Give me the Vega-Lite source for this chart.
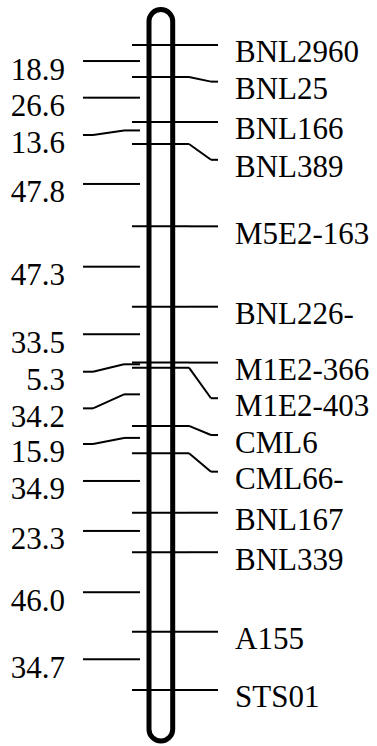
{
  "$schema": "https://vega.github.io/schema/vega-lite/v6.json",
  "width": 377,
  "height": 746,
  "autosize": {"type": "fit", "contains": "padding"},
  "padding": 0,
  "background": "white",
  "config": {"view": {"stroke": null}},
  "datasets": {
    "chrom": [{"start": -21.0, "end": 412.2}],
    "markers": [
      {"name": "BNL2960", "pos": 0, "lpos": 0},
      {"name": "BNL25", "pos": 18.9, "lpos": 21.7},
      {"name": "BNL166", "pos": 45.6, "lpos": 45.6},
      {"name": "BNL389", "pos": 58.6, "lpos": 68.0},
      {"name": "M5E2-163", "pos": 107.4, "lpos": 107.4},
      {"name": "BNL226-", "pos": 155.0, "lpos": 155.0},
      {"name": "M1E2-366", "pos": 188.1, "lpos": 188.1},
      {"name": "M1E2-403", "pos": 191.1, "lpos": 209.2},
      {"name": "CML6", "pos": 225.6, "lpos": 231.0},
      {"name": "CML66-", "pos": 241.8, "lpos": 252.7},
      {"name": "BNL167", "pos": 277.0, "lpos": 277.0},
      {"name": "BNL339", "pos": 300.4, "lpos": 300.4},
      {"name": "A155", "pos": 347.5, "lpos": 347.5},
      {"name": "STS01", "pos": 382.0, "lpos": 382.0}
    ],
    "intervals": [
      {"dist": "18.9", "pos": 9.5, "lpos": 9.5},
      {"dist": "26.6", "pos": 31.2, "lpos": 31.2},
      {"dist": "13.6", "pos": 50.6, "lpos": 53.3},
      {"dist": "47.8", "pos": 82.3, "lpos": 82.3},
      {"dist": "47.3", "pos": 131.3, "lpos": 131.3},
      {"dist": "33.5", "pos": 171.3, "lpos": 171.3},
      {"dist": "5.3", "pos": 189.1, "lpos": 193.5},
      {"dist": "34.2", "pos": 206.9, "lpos": 215.2},
      {"dist": "15.9", "pos": 232.7, "lpos": 236.3},
      {"dist": "34.9", "pos": 258.2, "lpos": 258.2},
      {"dist": "23.3", "pos": 287.8, "lpos": 287.8},
      {"dist": "46.0", "pos": 324.1, "lpos": 324.1},
      {"dist": "34.7", "pos": 363.8, "lpos": 363.8}
    ]
  },
  "encoding": {
    "y": {"field": "pos", "type": "quantitative", "scale": {"domain": [-26.65, 415.17], "reverse": true, "nice": false, "zero": false}, "axis": null}
  },
  "layer": [
    {
      "data": {"name": "chrom"},
      "mark": {"type": "rect", "fillOpacity": 0, "stroke": "black", "strokeWidth": 5, "cornerRadius": 11.8},
      "encoding": {
        "x": {"datum": 149, "type": "quantitative", "scale": {"domain": [0, 377], "nice": false, "zero": false}, "axis": null},
        "x2": {"datum": 172.7},
        "y": {"field": "start", "type": "quantitative"},
        "y2": {"field": "end"}
      }
    },
    {
      "data": {"name": "markers"},
      "mark": {"type": "rule", "color": "black", "strokeWidth": 2},
      "encoding": {
        "x": {"datum": 132, "type": "quantitative"},
        "x2": {"datum": 189}
      }
    },
    {
      "data": {"name": "markers"},
      "mark": {"type": "rule", "color": "black", "strokeWidth": 2},
      "encoding": {
        "x": {"datum": 189, "type": "quantitative"},
        "x2": {"datum": 211},
        "y2": {"field": "lpos"}
      }
    },
    {
      "data": {"name": "markers"},
      "mark": {"type": "rule", "color": "black", "strokeWidth": 2},
      "encoding": {
        "x": {"datum": 211, "type": "quantitative"},
        "x2": {"datum": 218},
        "y": {"field": "lpos", "type": "quantitative"}
      }
    },
    {
      "data": {"name": "markers"},
      "mark": {"type": "text", "align": "left", "baseline": "alphabetic", "dy": 17.5, "font": "Liberation Serif", "fontSize": 31, "color": "black"},
      "encoding": {
        "x": {"datum": 235, "type": "quantitative"},
        "y": {"field": "lpos", "type": "quantitative"},
        "text": {"field": "name"}
      }
    },
    {
      "data": {"name": "intervals"},
      "mark": {"type": "rule", "color": "black", "strokeWidth": 2},
      "encoding": {
        "x": {"datum": 124, "type": "quantitative"},
        "x2": {"datum": 140}
      }
    },
    {
      "data": {"name": "intervals"},
      "mark": {"type": "rule", "color": "black", "strokeWidth": 2},
      "encoding": {
        "x": {"datum": 93, "type": "quantitative"},
        "x2": {"datum": 124},
        "y": {"field": "lpos", "type": "quantitative"},
        "y2": {"field": "pos"}
      }
    },
    {
      "data": {"name": "intervals"},
      "mark": {"type": "rule", "color": "black", "strokeWidth": 2},
      "encoding": {
        "x": {"datum": 83, "type": "quantitative"},
        "x2": {"datum": 93},
        "y": {"field": "lpos", "type": "quantitative"}
      }
    },
    {
      "data": {"name": "intervals"},
      "mark": {"type": "text", "align": "right", "baseline": "alphabetic", "dy": 18.5, "font": "Liberation Serif", "fontSize": 31, "color": "black"},
      "encoding": {
        "x": {"datum": 65, "type": "quantitative"},
        "y": {"field": "lpos", "type": "quantitative"},
        "text": {"field": "dist"}
      }
    }
  ]
}
